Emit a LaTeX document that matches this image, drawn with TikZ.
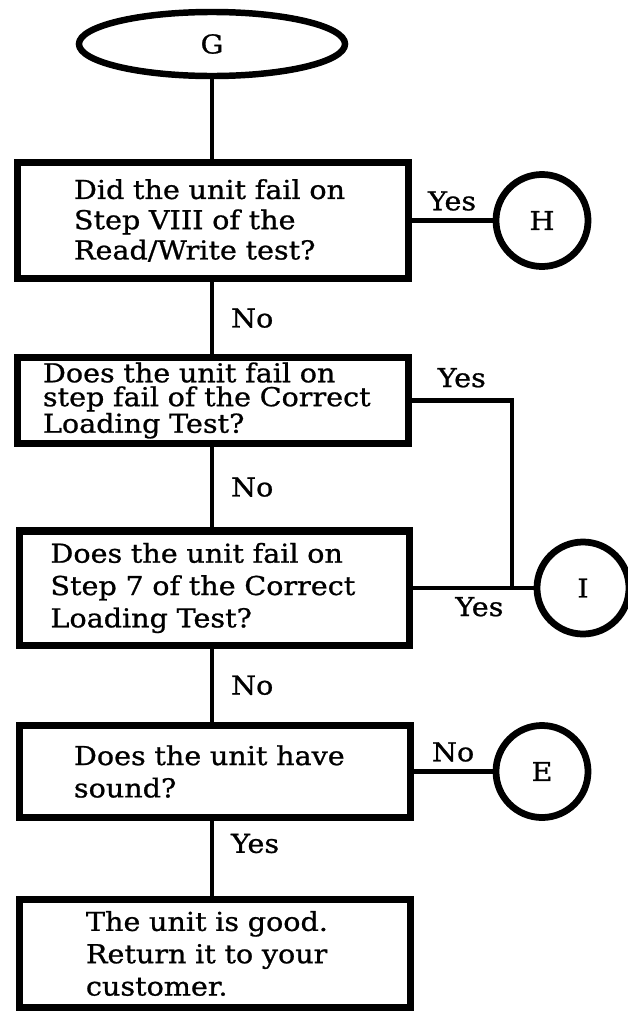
\documentclass[tikz,border=0pt]{standalone}
\usepackage{fontspec}
\setmainfont[FakeStretch=1.1,FakeBold=0.9]{DejaVu Serif}
\usetikzlibrary{shapes.geometric,positioning}
\setlength{\lineskiplimit}{-20pt}
\newcommand{\qfont}{\fontsize{18.5}{21.5}\selectfont}
\newcommand{\qtight}{\fontsize{18.5}{17}\selectfont}
\newcommand{\qloose}{\fontsize{18.5}{23}\selectfont}
\tikzset{
  query/.style={rectangle, draw=black, line width=5pt, minimum width=9.75cm,
                align=left, font=\qfont},
  term/.style={ellipse, draw=black, line width=4.6pt, minimum width=6.65cm,
               minimum height=1.6cm, font=\qfont},
  conn/.style={circle, draw=black, line width=4.8pt, minimum size=2.3cm,
               font=\qfont},
  flow/.style={line width=3.2pt, black},
  lbl/.style={font=\qfont, inner sep=2pt},
}

\begin{document}
\begin{tikzpicture}[x=0.025cm, y=-0.025cm]

%% Page frame (pixel grid of the original)
\useasboundingbox (0,0) rectangle (627,1013);

%% Start point
\node[term] (G) at (212,44) {G};

%% Questions, top to bottom
\node[query, minimum height=2.9cm, text width=6.95cm] (q1) at (213,220.5)
     {Did the unit fail on\\Step VIII of the\\Read/Write test?};
\node[query, minimum height=2.05cm, text width=8.5cm, font=\qtight] (q2) at (213,400.5)
     {Does the unit fail on\\step fail of the Correct\\Loading Test?};
\node[query, minimum height=2.85cm, text width=8.2cm, font=\qloose] (q3) at (214.5,588)
     {Does the unit fail on\\Step 7 of the Correct\\Loading Test?};
\node[query, minimum height=2.3cm, text width=7.05cm, font=\qloose] (q4) at (215,771.5)
     {Does the unit have\\sound?};
\node[query, minimum height=2.7cm, text width=6.45cm, font=\qloose] (q5) at (215,953.5)
     {The unit is good.\\Return it to your\\customer.};

%% Off-page connectors
\node[conn] (H) at (542,220.5) {H};
\node[conn] (I) at (583,588) {I};
\node[conn] (E) at (542,771.5) {E};
\coordinate (join) at (512,588);

%% Main column
\draw[flow] (G.south) -- (G.south |- q1.north);
\draw[flow] (q1.south -| G.south) -- (q2.north -| G.south)
     node[lbl, midway, right=0.35cm] {No};
\draw[flow] (q2.south -| G.south) -- (q3.north -| G.south)
     node[lbl, midway, right=0.35cm] {No};
\draw[flow] (q3.south -| G.south) -- (q4.north -| G.south)
     node[lbl, midway, right=0.35cm] {No};
\draw[flow] (q4.south -| G.south) -- (q5.north -| G.south)
     node[lbl, pos=0.3, right=0.35cm] {Yes};

%% Branches to the right
\draw[flow] (q1.east) -- (H.west)
     node[lbl, midway, above=0.12cm] {Yes};
\draw[flow] (q2.east) -| (join)
     node[lbl, pos=0.25, above=0.2cm] {Yes};
\draw[flow] (q3.east) -- (I.west)
     node[lbl, pos=0.55, below=0.1cm] {Yes};
\draw[flow] (q4.east) -- (E.west)
     node[lbl, midway, above=0.12cm] {No};

\end{tikzpicture}
\end{document}
